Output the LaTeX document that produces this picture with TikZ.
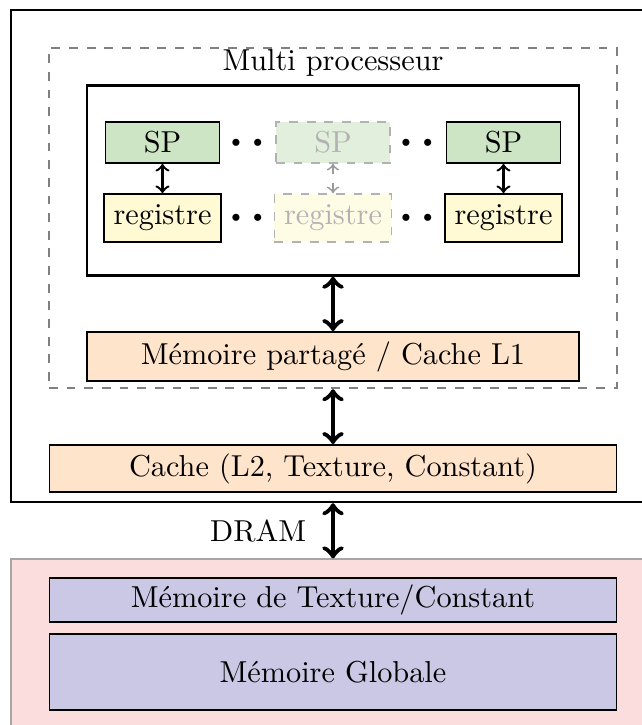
\documentclass[tikz,border=0pt]{standalone}
\usepackage{amsmath}
\usepackage{tikz}

\definecolor{spgreen}{RGB}{205,229,196}
\definecolor{regyellow}{RGB}{255,250,212}
\definecolor{cacheorange}{RGB}{255,228,204}
\definecolor{drampink}{RGB}{251,221,222}
\definecolor{memlavender}{RGB}{202,200,228}
\newcommand{\px}{0.34pt}

\begin{document}
\begin{tikzpicture}[x=0.34pt, y=-0.34pt,
		every node/.style = {font = \fontsize{10.3}{12.4}\selectfont},
		box/.style = {draw, semithick, inner sep = 0pt},
		spbox/.style = {box, fill = spgreen, minimum width = 114*\px, minimum height = 41*\px},
		regbox/.style = {box, fill = regyellow, minimum width = 117*\px, minimum height = 48*\px},
		ghost/.style = {draw = gray!60, dashed, text = gray!60},
		dotsep/.style = {font = \tiny, inner sep = 0pt},
		bigbox/.style = {box, minimum width = 567*\px}]
		\useasboundingbox (0,0) rectangle (642,725);
		% memoire de la carte
		\node[draw = gray!70, fill = drampink, minimum width = 644*\px, minimum height = 202*\px] (dram) at (333,660) {};
		\node[bigbox, fill = memlavender, minimum height = 44*\px] (texmem) at (333,600) {M\'emoire de Texture/Constant};
		\node[bigbox, fill = memlavender, minimum height = 76*\px] (globmem) at (333,672) {M\'emoire Globale};
		% le GPU
		\node[draw, thick, minimum width = 644*\px, minimum height = 492*\px] (gpu) at (333,256) {};
		\node[draw = gray, thick, dashed, minimum width = 568*\px, minimum height = 340*\px] (mp) at (333,218) {};
		\node (mplabel) at (333,63) {Multi processeur};
		\node[draw, thick, minimum width = 492*\px, minimum height = 190*\px] (cores) at (333,180.5) {};
		\node[box, fill = cacheorange, minimum width = 492*\px, minimum height = 49*\px] (shmem) at (333,356.5) {M\'emoire partag\'e / Cache L1};
		\node[bigbox, fill = cacheorange, minimum height = 47*\px] (cache) at (333,468.5) {Cache (L2, Texture, Constant)};
		% les SP
		\node[spbox] (sp1) at (162.5,142.5) {SP};
		\node[spbox, ghost, fill = spgreen!60] (sp2) at (333,142.5) {SP};
		\node[spbox] (sp3) at (503.5,142.5) {SP};
		\node[regbox] (reg1) at (162.5,218) {registre};
		\node[regbox, ghost, fill = regyellow!60] (reg2) at (333,218) {registre};
		\node[regbox] (reg3) at (503.5,218) {registre};
		\node[dotsep] (dotsa) at (247,142.5) {$\bullet\hspace{3.7pt}\bullet$};
		\node[dotsep] (dotsb) at (417,142.5) {$\bullet\hspace{3.7pt}\bullet$};
		\node[dotsep] (dotsc) at (247,218) {$\bullet\hspace{3.7pt}\bullet$};
		\node[dotsep] (dotsd) at (417,218) {$\bullet\hspace{3.7pt}\bullet$};
		\draw[<->, thick] (sp1) -- (reg1);
		\draw[<->, semithick, gray!80, dashed] (sp2) -- (reg2);
		\draw[<->, thick] (sp3) -- (reg3);
		% liens
		\draw[<->, ultra thick] (cores) -- (shmem);
		\draw[<->, ultra thick] (mp.south) -- (cache.north);
		\draw[<->, ultra thick] (gpu.south) -- (dram.north) node[midway, anchor = east, xshift = -5pt] (dramlabel) {DRAM};
	\end{tikzpicture}
\end{document}
